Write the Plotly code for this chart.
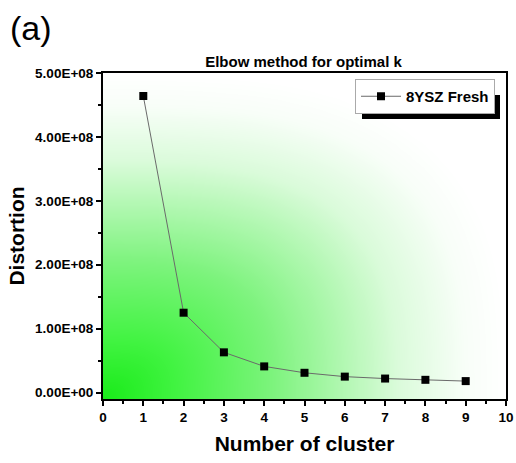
import numpy as np
import plotly.graph_objects as go

# Data
clusters = [1, 2, 3, 4, 5, 6, 7, 8, 9]
distortion = [4.64e8, 1.25e8, 0.63e8, 0.41e8, 0.31e8, 0.25e8, 0.22e8, 0.20e8, 0.18e8]
series_name = "8YSZ Fresh"
y_tick_vals = [0, 1e8, 2e8, 3e8, 4e8, 5e8]
y_tick_text = ["0.00E+00", "1.00E+08", "2.00E+08", "3.00E+08", "4.00E+08", "5.00E+08"]
x_tick_vals = list(range(0, 11))

XMIN, XMAX = 0, 10
YMIN, YMAX = -0.1e8, 5.0e8

L, R, T_, B = 103, 10, 73, 64
W, H = 516, 463
PW, PH = W - L - R, H - T_ - B

fig = go.Figure()

# background gradient (style only)
gx = np.linspace(XMIN, XMAX, 100)
gy = np.linspace(YMIN, YMAX, 100)
U, V = np.meshgrid((gx - XMIN) / (XMAX - XMIN), (gy - YMIN) / (YMAX - YMIN))
p = 3.0
Tz = np.clip((U ** p + V ** p) ** (1 / p), 0, 1)
fig.add_trace(go.Heatmap(
    x=gx, y=gy, z=Tz, zmin=0, zmax=1, zsmooth="best", showscale=False,
    hoverinfo="skip", showlegend=False,
    colorscale=[[0, "rgb(25,235,25)"], [0.18, "rgb(65,243,65)"],
                [0.42, "rgb(125,243,125)"], [0.73, "rgb(218,251,218)"],
                [0.9, "rgb(248,254,248)"], [1, "rgb(255,255,255)"]],
))

fig.add_trace(go.Scatter(
    x=clusters, y=distortion, mode="lines+markers", name=series_name,
    line=dict(color="#6a6a6a", width=1),
    marker=dict(symbol="square", size=8, color="black"),
))

FONT = "Arial, Liberation Sans"
axis_font = dict(family=FONT, size=13.5, color="black", weight="bold")

fig.update_layout(
    width=W, height=H,
    margin=dict(l=L, r=R, t=T_, b=B),
    paper_bgcolor="white", plot_bgcolor="white",
    font=dict(family=FONT, color="black"),
    title=dict(text="<b>Elbow method for optimal k</b>", x=303.5 / W, xanchor="center",
               y=1 - 62 / H, yanchor="middle",
               font=dict(size=15, family=FONT, color="black")),
    showlegend=True,
    legend=dict(x=(495 - L) / PW, xanchor="right", y=(H - B - 79) / PH, yanchor="top",
                bgcolor="white", bordercolor="#aaaaaa", borderwidth=1,
                font=dict(size=15, family=FONT, color="black", weight="bold"),
                itemwidth=40, tracegroupgap=0),
    xaxis=dict(range=[XMIN, XMAX], tickvals=x_tick_vals, ticks="outside", ticklen=5, tickwidth=2,
               tickcolor="black", showline=True, linecolor="black", linewidth=2, mirror=True,
               showgrid=False, zeroline=False, tickfont=axis_font, automargin=False,
               minor=dict(dtick=0.5, tick0=0, ticks="outside", ticklen=3, tickwidth=2, tickcolor="black"),
               title=dict(text="<b>Number of cluster</b>", standoff=12,
                          font=dict(size=21, family=FONT, color="black"))),
    yaxis=dict(range=[YMIN, YMAX], tickvals=y_tick_vals, ticktext=y_tick_text, ticks="outside",
               ticklen=5, tickwidth=2, tickcolor="black", showline=True, linecolor="black",
               linewidth=2, mirror=True, showgrid=False, zeroline=False, tickfont=axis_font,
               automargin=False,
               minor=dict(dtick=0.5e8, tick0=0, ticks="outside", ticklen=3, tickwidth=2, tickcolor="black"),
               title=dict(text="<b>Distortion</b>", standoff=5,
                          font=dict(size=21, family=FONT, color="black"))),
)

# legend drop shadow
fig.add_shape(type="rect", xref="paper", yref="paper", layer="above",
              x0=(362 - L) / PW, x1=(500 - L) / PW,
              y0=(H - B - 119) / PH, y1=(H - B - 95) / PH,
              fillcolor="black", line=dict(width=0))

fig.add_annotation(text="(a)", xref="paper", yref="paper", x=(8 - L) / PW,
                   xanchor="left", y=(H - B - 28) / PH, yanchor="middle", showarrow=False,
                   font=dict(size=34, family=FONT, color="black"))

fig.write_html("out.html")
